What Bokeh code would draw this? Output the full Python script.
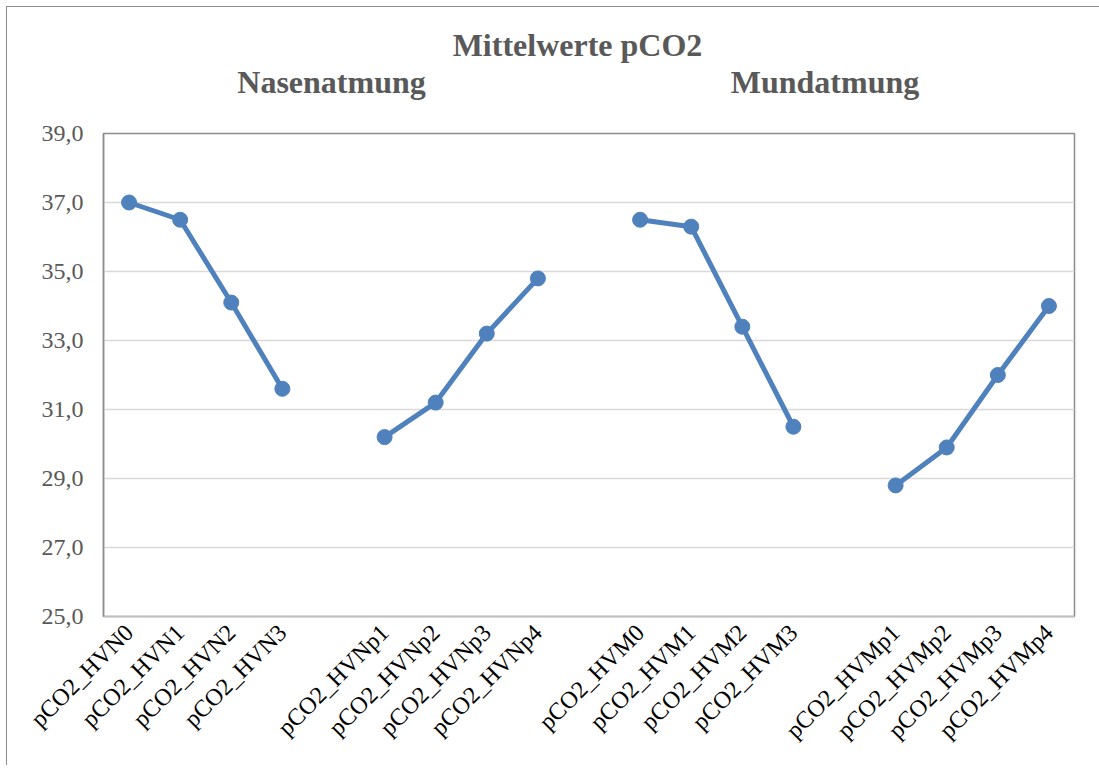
import math
from bokeh.plotting import figure
from bokeh.layouts import column
from bokeh.models import ColumnDataSource, FixedTicker
from bokeh.core.properties import value
from bokeh.embed import file_html
from bokeh.resources import INLINE

# ---- data ----
categories = ["pCO2_HVN0", "pCO2_HVN1", "pCO2_HVN2", "pCO2_HVN3", "",
              "pCO2_HVNp1", "pCO2_HVNp2", "pCO2_HVNp3", "pCO2_HVNp4", "",
              "pCO2_HVM0", "pCO2_HVM1", "pCO2_HVM2", "pCO2_HVM3", "",
              "pCO2_HVMp1", "pCO2_HVMp2", "pCO2_HVMp3", "pCO2_HVMp4"]
nase_values = [37.0, 36.5, 34.1, 31.6]
nase_post_values = [30.2, 31.2, 33.2, 34.8]
mund_values = [36.5, 36.3, 33.4, 30.5]
mund_post_values = [28.8, 29.9, 32.0, 34.0]
y_ticks = [25, 27, 29, 31, 33, 35, 37, 39]
y_tick_labels = ["25,0", "27,0", "29,0", "31,0", "33,0", "35,0", "37,0", "39,0"]
title_text = "Mittelwerte pCO2"
group_titles = ["Nasenatmung", "Mundatmung"]

nan = float("nan")
values = (nase_values + [nan] + nase_post_values + [nan]
          + mund_values + [nan] + mund_post_values)
xs = list(range(len(categories)))

FONT = "Liberation Serif"
BLUE = "#4f81bd"
GRAY_TXT = "#595959"
BORDER = "1.5px solid #8c8c8c"

W = 1093
TOP_H = 100
LEFT = 96
FRAME_W = 971
RIGHT = W - LEFT - FRAME_W

# ---- title strip (frame aligned with the chart frame) ----
t = figure(width=W, height=TOP_H, output_backend="svg", toolbar_location=None,
           x_range=(0, FRAME_W), y_range=(0, TOP_H),
           min_border_left=LEFT, min_border_right=RIGHT, min_border_top=0, min_border_bottom=0)
t.axis.visible = False
t.grid.visible = False
t.outline_line_color = None
t.styles = {"border-left": BORDER, "border-top": BORDER}
t.text(x=[474], y=[62.5], text=[title_text], text_font=value(FONT),
       text_font_size="32px", text_font_style="bold", text_color=GRAY_TXT,
       text_align="center", text_baseline="middle")
t.text(x=[228, 721.5], y=[25.5, 25.5], text=group_titles, text_font=value(FONT),
       text_font_size="32px", text_font_style="bold", text_color=GRAY_TXT,
       text_align="center", text_baseline="middle")

# ---- main chart ----
p = figure(width=W, height=659, output_backend="svg", toolbar_location=None,
           x_range=(-0.5, len(categories) - 0.5), y_range=(25, 39),
           min_border_left=LEFT, min_border_right=RIGHT, min_border_top=27,
           min_border_bottom=149)
p.styles = {"border-left": BORDER}

p.outline_line_color = "#8c8c8c"
p.outline_line_width = 1.5

src = ColumnDataSource(dict(x=xs, y=values))
p.line("x", "y", source=src, line_color=BLUE, line_width=5, line_join="round")
p.scatter("x", "y", source=src, size=15, fill_color=BLUE, line_color=BLUE)

p.xgrid.grid_line_color = None
p.ygrid.grid_line_color = "#d9d9d9"
p.ygrid.grid_line_width = 1.5
p.yaxis.ticker = FixedTicker(ticks=y_ticks)
p.yaxis.major_label_overrides = {t_: l for t_, l in zip(y_ticks, y_tick_labels)}
p.yaxis.major_label_text_font = FONT
p.yaxis.major_label_text_font_size = "24px"
p.yaxis.major_label_text_color = GRAY_TXT
p.yaxis.major_label_standoff = 20
p.yaxis.major_tick_out = 0
p.yaxis.major_tick_in = 0
p.yaxis.major_tick_line_color = None
p.yaxis.minor_tick_line_color = None
p.yaxis.axis_line_color = "#8c8c8c"
p.yaxis.axis_line_width = 1.5

p.xaxis.ticker = FixedTicker(ticks=xs)
p.xaxis.major_label_overrides = {i: c for i, c in enumerate(categories)}
p.xaxis.major_label_orientation = math.pi / 4
p.xaxis.major_label_text_font = FONT
p.xaxis.major_label_text_font_size = "24px"
p.xaxis.major_label_text_color = "black"
p.xaxis.major_label_standoff = 12
p.xaxis.major_tick_out = 0
p.xaxis.major_tick_in = 0
p.xaxis.major_tick_line_color = None
p.xaxis.minor_tick_line_color = None
p.xaxis.axis_line_color = "#bfbfbf"
p.xaxis.axis_line_width = 1.5

layout = column(t, p, spacing=0)
layout.margin = (6, 0, 0, 6)

open("out.html", "w").write(file_html(layout, INLINE))
